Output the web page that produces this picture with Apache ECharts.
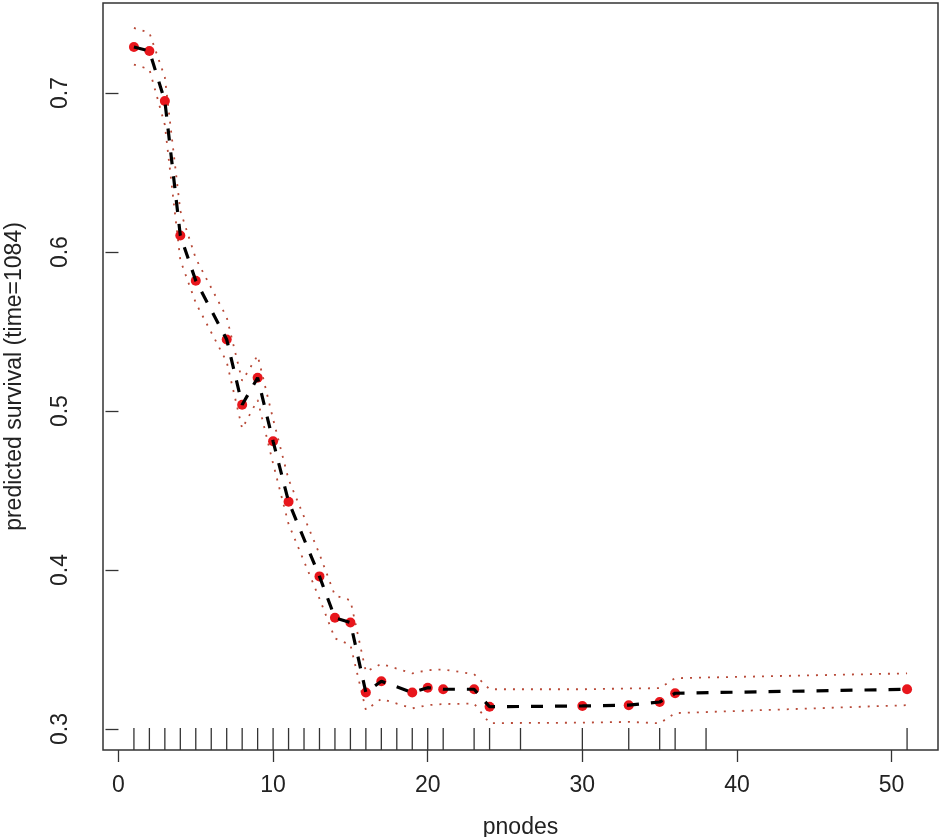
<!DOCTYPE html>
<html>
  <head>
    <meta charset="utf-8" />
    <title>predicted survival</title>
    <script src="https://cdn.jsdelivr.net/npm/echarts@6.0.0/dist/echarts.min.js"></script>
    <style>
      body { margin: 0; background: #fff; }
    </style>
  </head>
  <body>
    <div id="chart" style="width: 941px;height:837px;"></div>
    <script type="text/javascript">

      // valores
      var pnodes = [1, 2, 3, 4, 5, 7, 8, 9, 10, 11, 13, 14, 15, 16, 17, 19, 20, 21, 23, 24, 30, 33, 35, 36, 51];
      var surv  = [0.729, 0.7265, 0.695, 0.6105, 0.582, 0.545, 0.504, 0.521, 0.481, 0.443, 0.396, 0.370, 0.367,
                   0.323, 0.330, 0.323, 0.326, 0.325, 0.325, 0.314, 0.3145, 0.315, 0.317, 0.3225, 0.325];
      var upper = [0.741, 0.738, 0.710, 0.626, 0.596, 0.559, 0.519, 0.535, 0.495, 0.457, 0.410, 0.384, 0.381,
                   0.336, 0.341, 0.335, 0.337, 0.3375, 0.3345, 0.325, 0.325, 0.3255, 0.3257, 0.332, 0.335];
      var lower = [0.718, 0.715, 0.680, 0.595, 0.568, 0.531, 0.489, 0.507, 0.467, 0.429, 0.382, 0.357, 0.353,
                   0.312, 0.319, 0.313, 0.315, 0.3157, 0.316, 0.3037, 0.304, 0.3045, 0.3036, 0.310, 0.315];
      // rug (valores distintos de pnodes nos dados)
      var rug = [1, 2, 3, 4, 5, 6, 7, 8, 9, 10, 11, 12, 13, 14, 15, 16, 17, 18, 19, 20, 21, 23, 24, 26, 30, 33, 35, 36, 38, 51];
      var xTicks = [0, 10, 20, 30, 40, 50];
      var yTicks = [0.3, 0.4, 0.5, 0.6, 0.7];

      function pairs(xs, ys) {
        var out = [];
        for (var i = 0; i < xs.length; i++) {
          out.push([xs[i], ys[i]]);
        }
        return out;
      }

      var fonte = "'Liberation Sans Narrow', 'Liberation Sans', Arial, sans-serif";
      var chart = echarts.init(document.getElementById('chart'));

      var option = {
        animation: false,
        grid: {
          left: 103, right: 3, top: 3, bottom: 87,
          outerBoundsMode: 'none',
          containLabel: false,
          show: true,
          borderColor: '#333',
          borderWidth: 1.5
        },
        xAxis: {
          type: 'value',
          min: -1,
          max: 53,
          name: 'pnodes',
          nameLocation: 'middle',
          nameGap: 66,
          nameTextStyle: { fontFamily: fonte, fontSize: 23, color: '#222' },
          splitLine: { show: false },
          axisLine: { show: false },
          axisTick: {
            show: true, length: 12, customValues: xTicks,
            lineStyle: { color: '#333', width: 1.3 }
          },
          axisLabel: {
            customValues: xTicks, margin: 24,
            fontFamily: fonte, fontSize: 23, color: '#222'
          }
        },
        yAxis: {
          type: 'value',
          min: 0.2868,
          max: 0.7567,
          name: 'predicted survival (time=1084)',
          nameLocation: 'middle',
          nameGap: 77,
          nameRotate: 90,
          nameTextStyle: { fontFamily: fonte, fontSize: 23, color: '#222' },
          splitLine: { show: false },
          axisLine: { show: false },
          axisTick: {
            show: true, length: 13, customValues: yTicks,
            lineStyle: { color: '#333', width: 1.3 }
          },
          axisLabel: {
            customValues: yTicks, rotate: 90, margin: 31,
            fontFamily: fonte, fontSize: 23, color: '#222',
            formatter: function (v) { return v.toFixed(1); }
          }
        },
        series: [
          {
            // rug no fundo
            type: 'custom',
            data: rug.map(function (v) { return [v]; }),
            renderItem: function (params, api) {
              var p = api.coord([api.value(0), 0.2868]);
              return {
                type: 'line',
                shape: { x1: p[0], y1: p[1], x2: p[0], y2: p[1] - 22 },
                style: { stroke: '#333', lineWidth: 1.3 }
              };
            },
            silent: true
          },
          {
            name: 'upper',
            type: 'line',
            data: pairs(pnodes, upper),
            showSymbol: false,
            lineStyle: { color: '#b84a38', width: 1.8, type: [2, 7] },
            z: 2
          },
          {
            name: 'lower',
            type: 'line',
            data: pairs(pnodes, lower),
            showSymbol: false,
            lineStyle: { color: '#b84a38', width: 1.8, type: [2, 7] },
            z: 2
          },
          {
            name: 'pontos',
            type: 'scatter',
            data: pairs(pnodes, surv),
            symbolSize: 10,
            itemStyle: { color: '#e8161c', opacity: 1 },
            z: 3
          },
          {
            name: 'surv',
            type: 'line',
            data: pairs(pnodes, surv),
            showSymbol: false,
            lineStyle: { color: '#000', width: 3.2, type: [12, 12] },
            z: 4
          }
        ]
      };
      chart.setOption(option);
    </script>
  </body>
</html>
